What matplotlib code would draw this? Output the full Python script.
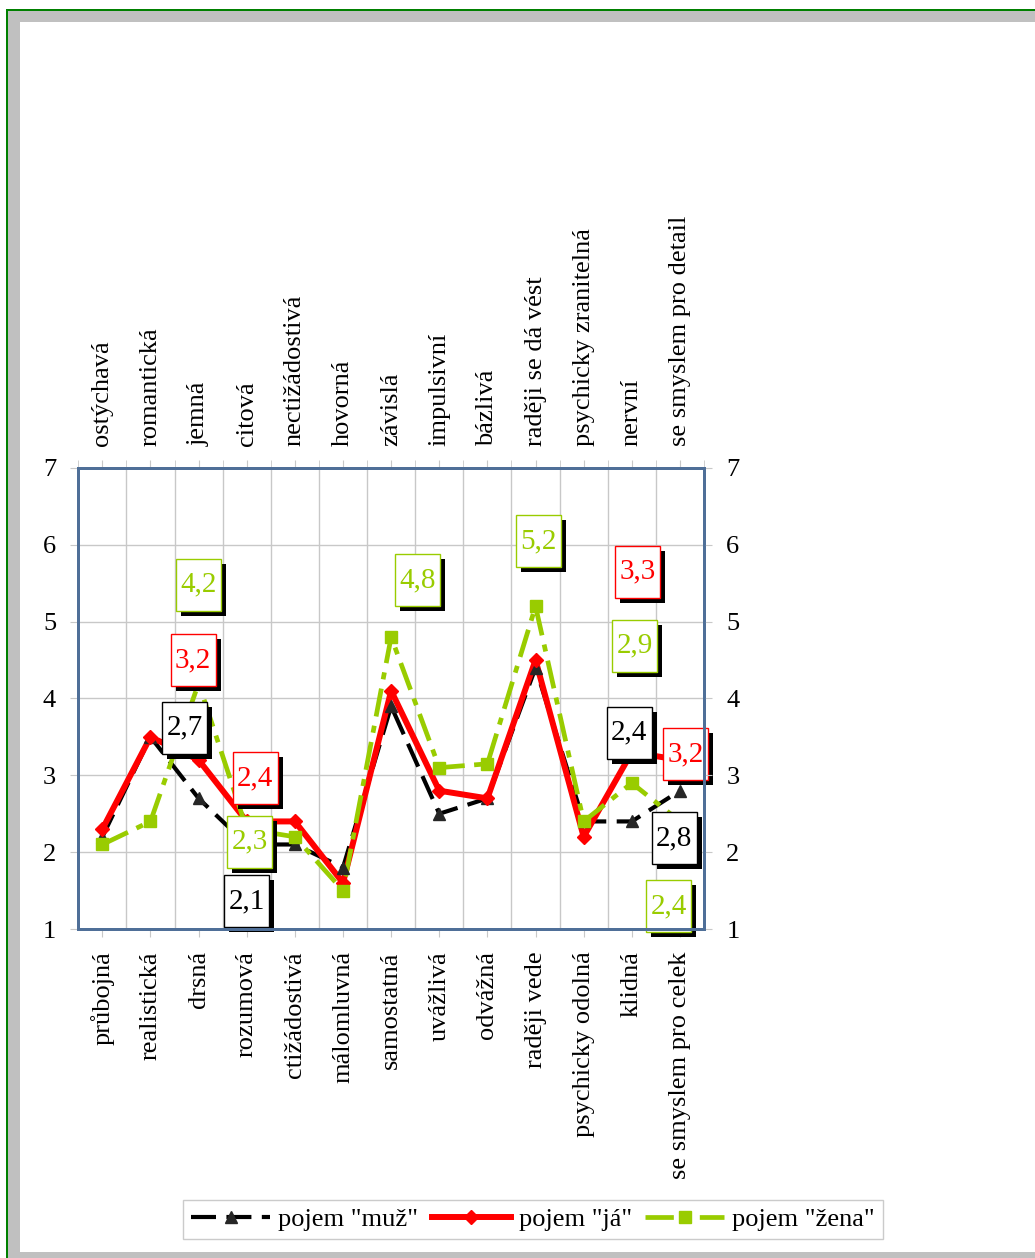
import numpy as np
import matplotlib
matplotlib.use('Agg')
import matplotlib.pyplot as plt
from matplotlib.lines import Line2D
from matplotlib.patches import Rectangle
from matplotlib.transforms import ScaledTranslation

plt.rcParams['font.family'] = ['Liberation Serif', 'DejaVu Serif']

bottom_labels = ['průbojná', 'realistická', 'drsná', 'rozumová', 'ctižádostivá', 'málomluvná',
                 'samostatná', 'uvážlivá', 'odvážná', 'raději vede', 'psychicky odolná', 'klidná',
                 'se smyslem pro celek']
top_labels = ['ostýchavá', 'romantická', 'jemná', 'citová', 'nectižádostivá', 'hovorná',
              'závislá', 'impulsivní', 'bázlivá', 'raději se dá vést', 'psychicky zranitelná', 'nervní',
              'se smyslem pro detail']

muz = [2.2, 3.5, 2.7, 2.1, 2.1, 1.8, 3.9, 2.5, 2.7, 4.4, 2.4, 2.4, 2.8]
ja = [2.3, 3.5, 3.2, 2.4, 2.4, 1.6, 4.1, 2.8, 2.7, 4.5, 2.2, 3.3, 3.2]
zena = [2.1, 2.4, 4.2, 2.3, 2.2, 1.5, 4.8, 3.1, 3.15, 5.2, 2.4, 2.9, 2.4]

# which points get a value box, and where the box centre sits (offset in points)
muz_lbl = {2: (-10, 51), 3: (0, -41), 11: (-2, 64), 12: (-4, -34)}
ja_lbl = {2: (-4, 72), 3: (6, 31), 11: (4, 130), 12: (4, 4)}
zena_lbl = {2: (0, 71), 3: (2, -9), 6: (19, 41), 9: (2, 47), 11: (2, 99), 12: (-8, -61)}

BLACK = '#000000'
RED = '#ff0000'
GREEN = '#99cc00'
GRID = '#c8c8c8'
SPINE = '#4f6f98'

W, H = 1035, 1258
fig = plt.figure(figsize=(W / 100, H / 100), dpi=100)


def frac_rect(x0, y0, x1, y1, color):
    fig.add_artist(Rectangle((x0 / W, 1 - y1 / H), (x1 - x0) / W, (y1 - y0) / H,
                             transform=fig.transFigure, facecolor=color, edgecolor='none', zorder=0))


# page frame
frac_rect(8, 11, W, 22, '#c0c0c0')
frac_rect(8, 11, 20, H, '#c0c0c0')
frac_rect(8, 1252, W, H, '#c0c0c0')
frac_rect(6, 9, W, 11, '#008000')
frac_rect(6, 9, 8, H, '#008000')

ax = fig.add_axes([78.3 / W, 1 - 929 / H, (704 - 78.3) / W, (929 - 468) / H])
x = np.arange(len(bottom_labels))
ax.set_xlim(-0.5, len(x) - 0.5)
ax.set_ylim(1, 7)

ax.plot(x, muz, color=BLACK, lw=3, dashes=(6, 2.5), zorder=3)
ax.plot(x, ja, color=RED, lw=4.3, zorder=4)
ax.plot(x, zena, color=GREEN, lw=3.4, dashes=(6, 2, 1.5, 2), zorder=5)
ax.plot(x, muz, ls='none', marker='^', ms=8, color='#262626', zorder=6)
ax.plot(x, ja, ls='none', marker='D', ms=7.5, color=RED, zorder=7)
ax.plot(x, zena, ls='none', marker='s', ms=8.5, color=GREEN, zorder=8)

ax.set_xticks(x)
ax.set_xticklabels(bottom_labels, rotation=90, fontsize=19)
ax.set_xticks(np.arange(-0.5, len(x), 1), minor=True)
ax.set_yticks(range(1, 8))
ax.tick_params(axis='y', labelsize=19, length=6, color=GRID, pad=10)
ax.tick_params(axis='x', which='major', length=6, color=GRID, pad=10)
ax.tick_params(axis='x', which='minor', length=0)
ax.grid(which='minor', axis='x', color=GRID, lw=1)
ax.grid(which='major', axis='y', color=GRID, lw=1)
ax.set_axisbelow(True)

ax_top = ax.twiny()
ax_top.set_xlim(ax.get_xlim())
ax_top.set_xticks(x)
ax_top.set_xticklabels(top_labels, rotation=90, fontsize=19)
ax_top.set_xticks(np.arange(-0.5, len(x), 1), minor=True)
ax_top.tick_params(axis='x', which='both', length=6, color=GRID, pad=10)

ax_r = ax.twinx()
ax_r.set_ylim(1, 7)
ax_r.set_yticks(range(1, 8))
ax_r.tick_params(axis='y', labelsize=19, length=6, color=GRID, pad=10)

for a in (ax, ax_top, ax_r):
    for s in a.spines.values():
        s.set_color(SPINE)
        s.set_linewidth(2)

# value boxes: white box with coloured edge and a solid black drop shadow
BOX_W, BOX_H, SHADOW = 0.45, 0.52, 0.05  # inches


def value_box(i, v, off, color):
    anchor = fig.dpi_scale_trans + ScaledTranslation(i, v, ax.transData)
    cx, cy = off[0] / 72, off[1] / 72
    ax.add_patch(Rectangle((cx - BOX_W / 2 + SHADOW, cy - BOX_H / 2 - SHADOW), BOX_W, BOX_H,
                           transform=anchor, facecolor='black', edgecolor='none',
                           zorder=10, clip_on=False))
    ax.add_patch(Rectangle((cx - BOX_W / 2, cy - BOX_H / 2), BOX_W, BOX_H,
                           transform=anchor, facecolor='white', edgecolor=color, lw=1,
                           zorder=11, clip_on=False))
    ax.text(cx, cy, f'{v:.1f}'.replace('.', ','), transform=anchor, ha='center', va='center',
            fontsize=21, color=color, zorder=12, clip_on=False)


for vals, lbls, col in ((muz, muz_lbl, BLACK), (ja, ja_lbl, RED), (zena, zena_lbl, GREEN)):
    for i, off in lbls.items():
        value_box(i, vals[i], off, col)

handles = [
    Line2D([], [], color=BLACK, lw=3, dashes=(6, 2.5), marker='^', ms=8, mfc='#262626', mec='#262626'),
    Line2D([], [], color=RED, lw=4.3, marker='D', ms=7.5),
    Line2D([], [], color=GREEN, lw=3.4, dashes=(6, 2, 1.5, 2), marker='s', ms=8.5),
]
fig.legend(handles, ['pojem "muž"', 'pojem "já"', 'pojem "žena"'], loc='center',
           bbox_to_anchor=(533 / W, 1 - 1219.5 / H), ncol=3, frameon=True, fancybox=False,
           edgecolor='#bfbfbf', fontsize=19, handlelength=3.0, columnspacing=0.5,
           handletextpad=0.3, borderpad=0.3, borderaxespad=0)

fig.savefig('out.png', dpi=100)
